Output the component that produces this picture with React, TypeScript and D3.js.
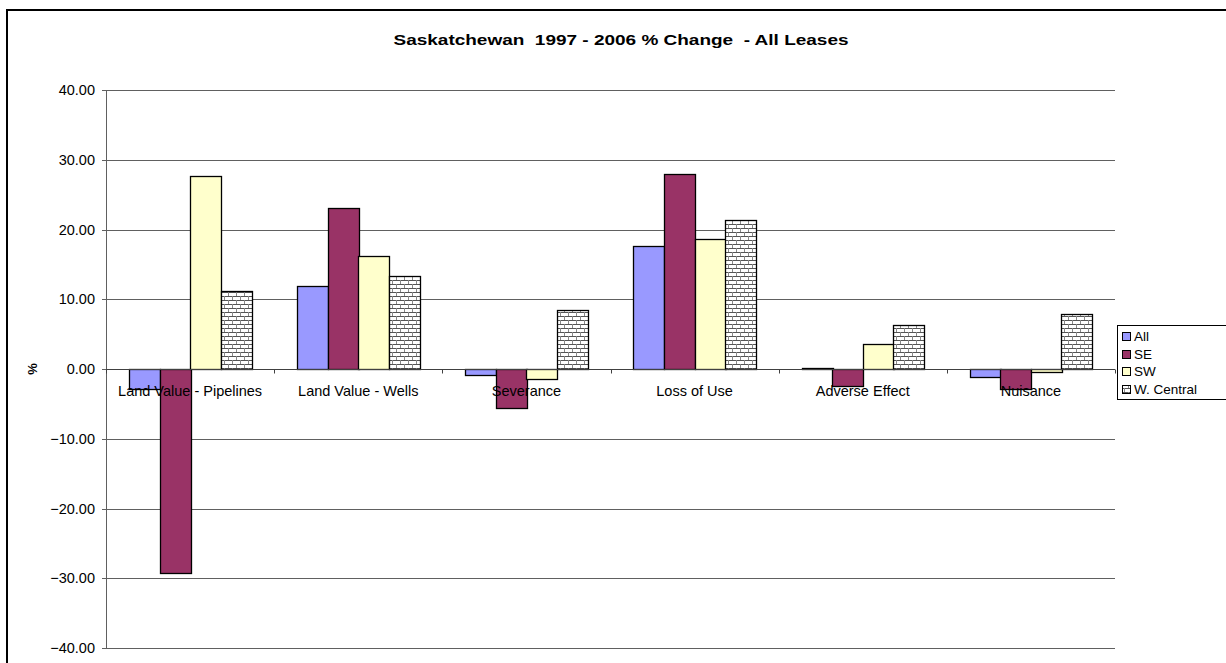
import React, { useEffect, useRef } from "react";
import * as d3 from "d3";

const categories = [
  "Land Value - Pipelines",
  "Land Value - Wells",
  "Severance",
  "Loss of Use",
  "Adverse Effect",
  "Nuisance",
];
const seriesNames = ["All", "SE", "SW", "W. Central"];
const allValues = [-2.8, 11.9, -0.8, 17.6, 0.2, -1.15];
const seValues = [-29.3, 23.1, -5.6, 27.9, -2.45, -2.8];
const swValues = [27.6, 16.2, -1.5, 18.6, 3.65, -0.5];
const wCentralValues = [11.2, 13.4, 8.5, 21.3, 6.3, 7.95];
const yTicks = [40, 30, 20, 10, 0, -10, -20, -30, -40];
const title = "Saskatchewan  1997 - 2006 % Change  - All Leases";

const fills = ["#9999FF", "#993366", "#FFFFCC", "url(#brick)"];

export default function App() {
  const ref = useRef<SVGSVGElement>(null);

  useEffect(() => {
    const svg = d3.select(ref.current);
    svg.selectAll("*").remove();
    const W = 1226, H = 663;
    const left = 106, right = 1115, top = 90, bottom = 648;
    const font = "Arial, 'Liberation Sans', sans-serif";

    // horizontal brick fill for the W. Central series
    const defs = svg.append("defs");
    const pat = defs
      .append("pattern")
      .attr("id", "brick")
      .attr("patternUnits", "userSpaceOnUse")
      .attr("width", 8)
      .attr("height", 8);
    pat.append("rect").attr("width", 8).attr("height", 8).attr("fill", "#ffffff");
    pat.append("rect").attr("x", 0).attr("y", 0).attr("width", 8).attr("height", 1).attr("fill", "#555");
    pat.append("rect").attr("x", 0).attr("y", 4).attr("width", 8).attr("height", 1).attr("fill", "#555");
    pat.append("rect").attr("x", 0).attr("y", 0).attr("width", 1).attr("height", 4).attr("fill", "#888");
    pat.append("rect").attr("x", 4).attr("y", 4).attr("width", 1).attr("height", 4).attr("fill", "#888");

    svg.append("rect").attr("width", W).attr("height", H).attr("fill", "#fff");
    svg
      .append("rect")
      .attr("x", 7)
      .attr("y", 10)
      .attr("width", W + 10)
      .attr("height", H + 10)
      .attr("fill", "#fff")
      .attr("stroke", "#000")
      .attr("stroke-width", 2);

    const y = d3.scaleLinear().domain([-40, 40]).range([bottom, top]);
    const x0 = d3.scaleBand<string>().domain(categories).range([left, right]).paddingInner(0).paddingOuter(0);
    const x1 = d3
      .scaleBand<string>()
      .domain(seriesNames)
      .range([0, x0.bandwidth()])
      .paddingInner(0)
      .paddingOuter(0.75);

    // gridlines
    svg
      .append("g")
      .selectAll("line")
      .data(yTicks)
      .join("line")
      .attr("x1", left)
      .attr("x2", right)
      .attr("y1", (d) => Math.round(y(d)) + 0.5)
      .attr("y2", (d) => Math.round(y(d)) + 0.5)
      .attr("stroke", "#606060")
      .attr("stroke-width", 1);

    // y axis
    const ya = svg.append("g");
    ya.append("line")
      .attr("x1", left + 0.5)
      .attr("x2", left + 0.5)
      .attr("y1", top)
      .attr("y2", bottom)
      .attr("stroke", "#606060");
    ya.selectAll("line.t")
      .data(yTicks)
      .join("line")
      .attr("class", "t")
      .attr("x1", left - 4)
      .attr("x2", left)
      .attr("y1", (d) => Math.round(y(d)) + 0.5)
      .attr("y2", (d) => Math.round(y(d)) + 0.5)
      .attr("stroke", "#606060");
    ya.selectAll("text")
      .data(yTicks)
      .join("text")
      .attr("x", left - 11)
      .attr("y", (d) => y(d) + 5)
      .attr("text-anchor", "end")
      .attr("font-family", font)
      .attr("font-size", 14.5)
      .attr("fill", "#000")
      .text((d) => d3.format(".2f")(d));

    svg
      .append("text")
      .attr("transform", `translate(37,${y(0)}) rotate(-90)`)
      .attr("text-anchor", "middle")
      .attr("font-family", font)
      .attr("font-size", 13)
      .attr("font-weight", "bold")
      .text("%");

    const series = [allValues, seValues, swValues, wCentralValues];
    const barG = svg.append("g");
    series.forEach((vals, si) => {
      barG
        .append("g")
        .selectAll("rect")
        .data(vals.map((v, i) => ({ v, c: categories[i] })))
        .join("rect")
        .attr("x", (d) => Math.round((x0(d.c) as number) + (x1(seriesNames[si]) as number)) + 0.5)
        .attr("width", Math.round(x1.bandwidth()))
        .attr("y", (d) => Math.round(y(Math.max(0, d.v))) + 0.5)
        .attr("height", (d) => Math.max(1, Math.round(Math.abs(y(d.v) - y(0)))))
        .attr("fill", fills[si])
        .attr("stroke", "#000")
        .attr("stroke-width", 1.3);
    });

    // x axis at zero with category boundary ticks
    const y0 = Math.round(y(0)) + 0.5;
    const xa = svg.append("g");
    xa.append("line").attr("x1", left).attr("x2", right).attr("y1", y0).attr("y2", y0).attr("stroke", "#404040");
    const bounds = categories.map((c) => x0(c) as number).concat([right]);
    xa.selectAll("line.t")
      .data(bounds)
      .join("line")
      .attr("class", "t")
      .attr("x1", (d) => Math.round(d) + 0.5)
      .attr("x2", (d) => Math.round(d) + 0.5)
      .attr("y1", y0)
      .attr("y2", y0 + 4)
      .attr("stroke", "#404040");
    xa.selectAll("text")
      .data(categories)
      .join("text")
      .attr("x", (d) => (x0(d) as number) + x0.bandwidth() / 2)
      .attr("y", y0 + 26)
      .attr("text-anchor", "middle")
      .attr("font-family", font)
      .attr("font-size", 14.5)
      .attr("fill", "#000")
      .text((d) => d);

    svg
      .append("text")
      .attr("x", 621)
      .attr("y", 45)
      .attr("text-anchor", "middle")
      .attr("font-family", font)
      .attr("font-size", 15)
      .attr("font-weight", "bold")
      .attr("textLength", 455)
      .attr("lengthAdjust", "spacingAndGlyphs")
      .style("white-space", "pre")
      .text(title);

    // legend
    const lg = svg.append("g");
    lg.append("rect")
      .attr("x", 1117.5)
      .attr("y", 325.5)
      .attr("width", 120)
      .attr("height", 74)
      .attr("fill", "#fff")
      .attr("stroke", "#000");
    seriesNames.forEach((n, i) => {
      const cy = 336 + i * 17.7;
      lg.append("rect")
        .attr("x", 1122.5)
        .attr("y", Math.round(cy - 4) + 0.5)
        .attr("width", 8)
        .attr("height", 8)
        .attr("fill", fills[i])
        .attr("stroke", "#000");
      lg.append("text")
        .attr("x", 1134)
        .attr("y", cy + 5)
        .attr("font-family", font)
        .attr("font-size", 13.5)
        .text(n);
    });
  }, []);

  return (
    <svg
      ref={ref}
      width={1226}
      height={663}
      style={{ position: "absolute", left: 0, top: 0, display: "block" }}
    />
  );
}
